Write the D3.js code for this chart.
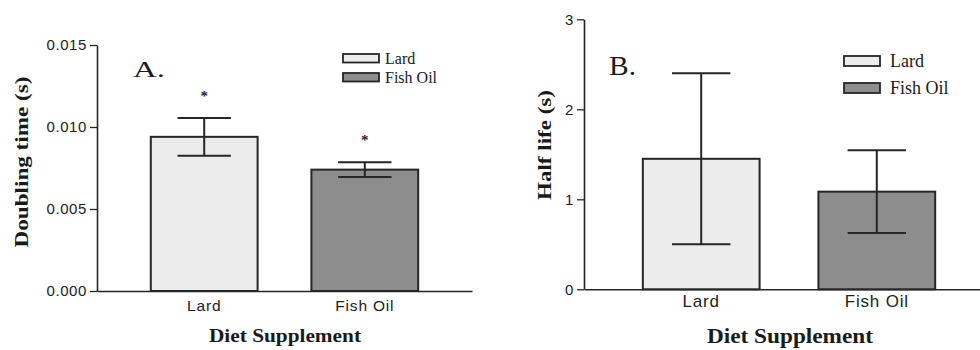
<!DOCTYPE html>
<html>
<head>
<meta charset="utf-8">
<script src="https://cdn.jsdelivr.net/npm/d3@7"></script>
<style>
  html, body { margin: 0; padding: 0; background: #fff; }
  svg { display: block; }
</style>
</head>
<body>
<svg id="chart" width="980" height="350"></svg>
<script>
// Diet supplement groups
const categories = ["Lard", "Fish Oil"];

// Panel A: doubling time (s), mean and SEM
const doublingMean = [0.0094, 0.0074];
const doublingSEM = [0.00115, 0.00045];
const doublingTicks = [0, 0.005, 0.010, 0.015];
const doublingSignificant = [true, true];

// Panel B: half life (s), mean and SEM
const halfLifeMean = [1.45, 1.085];
const halfLifeSEM = [0.95, 0.46];
const halfLifeTicks = [0, 1, 2, 3];
const halfLifeSignificant = [false, false];

const fills = ["#ececec", "#8d8d8d"];
const ink = "#262626";
const serif = "'Liberation Serif', 'Times New Roman', serif";
const sans = "'Liberation Sans', Arial, sans-serif";

const svg = d3.select("#chart");

function drawPanel(p) {
  const g = svg.append("g");

  const x = d3.scaleBand()
    .domain(categories)
    .range([p.left, p.right])
    .paddingInner(0.335)
    .paddingOuter(0.335);

  const y = d3.scaleLinear()
    .domain([0, p.ticks[p.ticks.length - 1]])
    .range([p.bottom, p.top]);

  // bars
  g.selectAll("rect.bar")
    .data(categories)
    .join("rect")
    .attr("class", "bar")
    .attr("x", d => x(d))
    .attr("width", x.bandwidth())
    .attr("y", (d, i) => y(p.mean[i]))
    .attr("height", (d, i) => y(0) - y(p.mean[i]))
    .attr("fill", (d, i) => fills[i])
    .attr("stroke", ink)
    .attr("stroke-width", 2);

  // error bars
  const capHalf = x.bandwidth() * 0.25;
  const eb = g.selectAll("g.err")
    .data(categories)
    .join("g")
    .attr("class", "err")
    .attr("stroke", ink)
    .attr("stroke-width", 2);
  eb.append("line")
    .attr("x1", d => x(d) + x.bandwidth() / 2)
    .attr("x2", d => x(d) + x.bandwidth() / 2)
    .attr("y1", (d, i) => y(p.mean[i] - p.sem[i]))
    .attr("y2", (d, i) => y(p.mean[i] + p.sem[i]));
  eb.append("line")
    .attr("x1", d => x(d) + x.bandwidth() / 2 - capHalf)
    .attr("x2", d => x(d) + x.bandwidth() / 2 + capHalf)
    .attr("y1", (d, i) => y(p.mean[i] + p.sem[i]))
    .attr("y2", (d, i) => y(p.mean[i] + p.sem[i]));
  eb.append("line")
    .attr("x1", d => x(d) + x.bandwidth() / 2 - capHalf)
    .attr("x2", d => x(d) + x.bandwidth() / 2 + capHalf)
    .attr("y1", (d, i) => y(p.mean[i] - p.sem[i]))
    .attr("y2", (d, i) => y(p.mean[i] - p.sem[i]));

  // significance markers
  g.selectAll("text.sig")
    .data(categories.filter((d, i) => p.sig[i]))
    .join("text")
    .attr("class", "sig")
    .attr("x", d => x(d) + x.bandwidth() / 2)
    .attr("y", d => {
      const i = categories.indexOf(d);
      return y(p.mean[i] + p.sem[i]) - 17;
    })
    .attr("text-anchor", "middle")
    .attr("font-family", serif)
    .attr("font-weight", "bold")
    .attr("font-size", 15)
    .attr("fill", ink)
    .text("*");

  // y axis
  const yAxis = g.append("g")
    .attr("transform", `translate(${p.left},0)`)
    .call(d3.axisLeft(y).tickValues(p.ticks).tickFormat(p.fmt).tickSize(7).tickSizeOuter(0).tickPadding(3));
  yAxis.select(".domain").attr("stroke", ink).attr("stroke-width", 1.6);
  yAxis.selectAll(".tick line").attr("stroke", ink).attr("stroke-width", 1.3);
  yAxis.selectAll(".tick text")
    .attr("font-family", sans)
    .attr("font-size", 15)
    .attr("letter-spacing", 0.6)
    .attr("fill", "#222");

  // x axis
  const xAxis = g.append("g")
    .attr("transform", `translate(0,${p.bottom})`)
    .call(d3.axisBottom(x).tickSize(0).tickSizeOuter(0).tickPadding(p.catPad));
  xAxis.select(".domain").attr("stroke", ink).attr("stroke-width", 1.6);
  xAxis.selectAll(".tick text")
    .attr("font-family", sans)
    .attr("font-size", p.catSize)
    .attr("letter-spacing", 0.8)
    .attr("fill", "#222");

  // axis titles
  g.append("text")
    .attr("x", p.xTitle[0])
    .attr("y", p.xTitle[1])
    .attr("text-anchor", "middle")
    .attr("font-family", serif)
    .attr("font-weight", "bold")
    .attr("font-size", p.xTitleSize)
    .attr("textLength", p.xTitleLen)
    .attr("lengthAdjust", "spacingAndGlyphs")
    .attr("fill", "#1a1a1a")
    .text("Diet Supplement");

  g.append("text")
    .attr("transform", `translate(${p.yTitle[0]},${p.yTitle[1]}) rotate(-90)`)
    .attr("text-anchor", "middle")
    .attr("font-family", serif)
    .attr("font-weight", "bold")
    .attr("font-size", 19)
    .attr("textLength", p.yTitleLen)
    .attr("lengthAdjust", "spacingAndGlyphs")
    .attr("fill", "#1a1a1a")
    .text(p.yLabel);

  // panel letter
  g.append("text")
    .attr("x", p.letterPos[0])
    .attr("y", p.letterPos[1])
    .attr("font-family", serif)
    .attr("font-size", p.letterSize)
    .attr("textLength", p.letterLen)
    .attr("lengthAdjust", "spacingAndGlyphs")
    .attr("fill", "#1a1a1a")
    .text(p.letter);

  // legend
  const lg = g.append("g")
    .attr("transform", `translate(${p.legend[0]},${p.legend[1]})`);
  const items = lg.selectAll("g")
    .data(categories)
    .join("g")
    .attr("transform", (d, i) => `translate(0,${i * p.legendStep})`);
  items.append("rect")
    .attr("x", 0)
    .attr("y", 0)
    .attr("width", p.swatch[0])
    .attr("height", p.swatch[1])
    .attr("fill", (d, i) => fills[i])
    .attr("stroke", ink)
    .attr("stroke-width", 1.8);
  items.append("text")
    .attr("x", p.swatch[0] + p.legendGap)
    .attr("y", p.swatch[1] + 1)
    .attr("font-family", serif)
    .attr("font-size", p.legendSize)
    .attr("fill", "#1a1a1a")
    .text(d => d);
}

drawPanel({
  left: 97, right: 472, top: 45, bottom: 291,
  mean: doublingMean, sem: doublingSEM, ticks: doublingTicks,
  sig: doublingSignificant,
  fmt: d3.format(".3f"),
  catSize: 15.5, catPad: 9,
  xTitle: [285, 342], xTitleSize: 18, xTitleLen: 152,
  yTitle: [28, 162], yTitleLen: 171, yLabel: "Doubling time (s)",
  letter: "A.", letterPos: [133, 77], letterSize: 24, letterLen: 32,
  legend: [343, 54], legendStep: 19, swatch: [36, 8.5], legendGap: 6, legendSize: 16
});

drawPanel({
  left: 584, right: 994, top: 19.3, bottom: 289.3,
  mean: halfLifeMean, sem: halfLifeSEM, ticks: halfLifeTicks,
  sig: halfLifeSignificant,
  fmt: d3.format("d"),
  catSize: 17, catPad: 6,
  xTitle: [790, 343], xTitleSize: 20, xTitleLen: 166,
  yTitle: [551, 145], yTitleLen: 110, yLabel: "Half life (s)",
  letter: "B.", letterPos: [609, 75], letterSize: 28, letterLen: 27,
  legend: [844, 56], legendStep: 27, swatch: [36, 10], legendGap: 10, legendSize: 18
});
</script>
</body>
</html>
